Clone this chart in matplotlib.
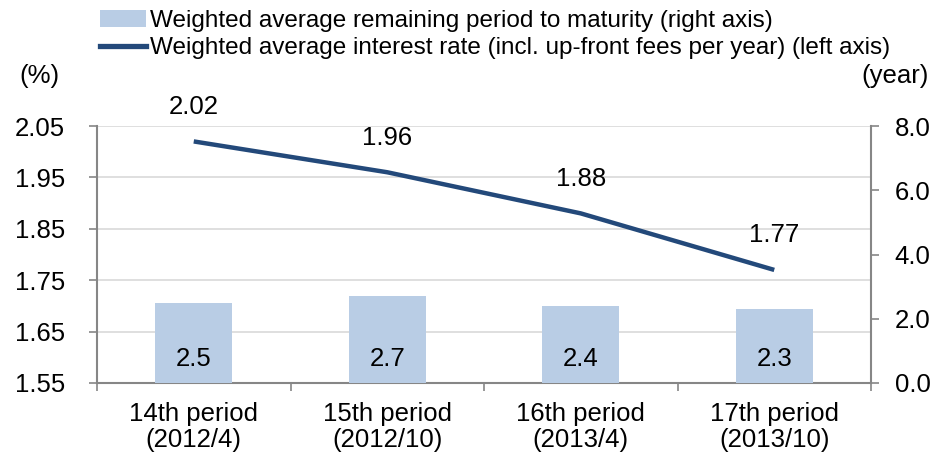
import matplotlib
matplotlib.use("Agg")
import matplotlib.pyplot as plt
from matplotlib.patches import Patch
from matplotlib.lines import Line2D

plt.rcParams['font.family'] = ['Liberation Sans', 'DejaVu Sans']

# datos
periods = ["14th period\n(2012/4)", "15th period\n(2012/10)",
           "16th period\n(2013/4)", "17th period\n(2013/10)"]
rates = [2.02, 1.96, 1.88, 1.77]
maturity = [2.5, 2.7, 2.4, 2.3]

BAR_COLOR = "#b9cde5"
LINE_COLOR = "#23497a"
SPINE = "#868686"
FS = 18.5

fig = plt.figure(figsize=(9.3, 4.62), dpi=100)
ax = fig.add_axes([97 / 930, 1 - 383 / 462, (871 - 97) / 930, (383 - 126) / 462])
ax2 = ax.twinx()

x = list(range(len(periods)))

# eixo esquerdo: taxa
ax.plot(x, rates, color=LINE_COLOR, lw=3.2, solid_capstyle="butt", zorder=3)
for xi, r in zip(x, rates):
    ax.annotate(f"{r:.2f}", (xi, r), xytext=(0, 25), textcoords="offset points",
                ha="center", va="center", fontsize=FS)
ax.set_ylim(1.55, 2.05)
ax.set_yticks([1.55, 1.65, 1.75, 1.85, 1.95, 2.05])
ax.set_yticklabels([f"{v:.2f}" for v in ax.get_yticks()])
ax.yaxis.grid(True, color="#d9d9d9", lw=1.2)
ax.set_axisbelow(True)

# eixo direito: prazo
ax2.bar(x, maturity, width=0.4, color=BAR_COLOR, zorder=2)
for xi, m in zip(x, maturity):
    ax2.annotate(f"{m:.1f}", (xi, 0), xytext=(0, 17), textcoords="offset points",
                 ha="center", va="center", fontsize=FS)
ax2.set_ylim(0, 8)
ax2.set_yticks([0, 2, 4, 6, 8])
ax2.set_yticklabels([f"{v:.1f}" for v in ax2.get_yticks()])

ax.set_xlim(-0.5, 3.5)
ax.set_xticks([-0.5, 0.5, 1.5, 2.5, 3.5])
ax.set_xticklabels([])
ax.set_xticks(x, minor=True)
ax.set_xticklabels(periods, minor=True, fontsize=FS, linespacing=1.1)
ax.tick_params(axis="x", which="minor", length=0, pad=14)
ax.tick_params(axis="x", which="major", length=6, color=SPINE, width=1.2)

for a in (ax, ax2):
    a.spines["top"].set_visible(False)
    a.tick_params(axis="y", length=6, color=SPINE, width=1.2, labelsize=FS)
ax.tick_params(axis="y", pad=17)
ax2.tick_params(axis="y", pad=11)
ax.spines["left"].set_color(SPINE)
ax.spines["bottom"].set_color(SPINE)
ax.spines["right"].set_visible(False)
ax2.spines["left"].set_visible(False)
ax2.spines["bottom"].set_visible(False)
ax2.spines["right"].set_color(SPINE)
for a in (ax, ax2):
    for s in a.spines.values():
        s.set_linewidth(1.5)

fig.text(39 / 930, 1 - 76 / 462, "(%)", ha="center", va="center", fontsize=FS)
fig.text(929 / 930, 1 - 76 / 462, "(year)", ha="right", va="center", fontsize=FS)

handles = [Patch(facecolor=BAR_COLOR, edgecolor="none"),
           Line2D([], [], color=LINE_COLOR, lw=3.8)]
labels = ["Weighted average remaining period to maturity (right axis)",
          "Weighted average interest rate (incl. up-front fees per year) (left axis)"]
fig.legend(handles, labels, loc="upper left", bbox_to_anchor=(88 / 930, 1.005),
           frameon=False, fontsize=17.5, handlelength=1.9, handletextpad=0.15,
           labelspacing=0.22, borderaxespad=0.1)

fig.savefig("out.png", dpi=100)
